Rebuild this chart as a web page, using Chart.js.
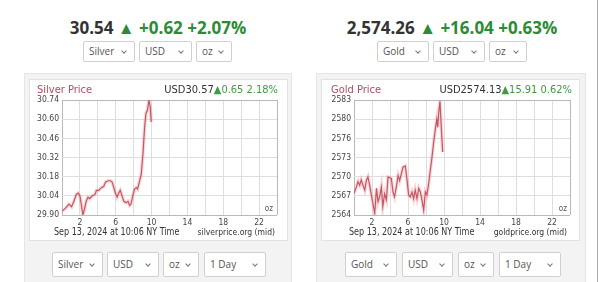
<!DOCTYPE html>
<html>
<head>
<meta charset="utf-8">
<script src="https://cdn.jsdelivr.net/npm/chart.js@4"></script>
<style>
  html, body { margin: 0; padding: 0; background: #fff; }
  body { width: 600px; height: 282px; position: relative; overflow: hidden; font-family: "Open Sans", sans-serif; }
  .abs { position: absolute; white-space: nowrap; }
  .head { font-weight: 700; font-size: 17px; line-height: 22px; text-align: center; color: #333; }
  .head .up { color: #2c8c35; }
  .sel { position: absolute; box-sizing: border-box; background: #fff; border: 1px solid #d0d0d0; border-radius: 2px;
         font-size: 10px; color: #555; padding-left: 5px; }
  .sel::after { content: ""; position: absolute; right: 8px; top: calc(50% - 3px); width: 3px; height: 3px;
         border-right: 1px solid #777; border-bottom: 1px solid #777; transform: rotate(45deg); }
  .panel { position: absolute; background: #f3f3f3; border: 1px solid #e6e6e6; box-sizing: border-box; }
  .box { position: absolute; background: #fff; border: 1px solid #e2e2e2; box-sizing: border-box; }
  .ct { font-family: "DejaVu Sans Condensed", "DejaVu Sans", sans-serif; }
  .foot { font-size: 10.5px; color: #333; transform: scaleX(0.85); transform-origin: left center; }
  canvas { position: absolute; }
</style>
</head>
<body>

<div class="abs head" style="left:24px;width:268px;top:17px;">30.54 <span class="up">&#9650; +0.62 +2.07%</span></div>
<div class="abs head" style="left:318px;width:268px;top:17px;">2,574.26 <span class="up">&#9650; +16.04 +0.63%</span></div>

<div class="panel" style="left:24px;top:73px;width:268px;height:215px;"></div>
<div class="panel" style="left:316px;top:73px;width:270px;height:215px;"></div>
<div class="box" style="left:29px;top:79px;width:259px;height:162px;"></div>
<div class="box" style="left:321px;top:79px;width:259px;height:162px;"></div>
<div class="abs" style="left:597px;top:0;width:1px;height:282px;background:#a8a8a8;"></div>

<canvas id="silverChart" width="259" height="162" style="left:29px;top:79px;"></canvas>
<canvas id="goldChart" width="259" height="162" style="left:321px;top:79px;"></canvas>

<div class="abs ct" style="left:37px;top:83px;font-size:11px;color:#b54a5c;">Silver Price</div>
<div class="abs ct" style="right:322px;top:83px;font-size:11px;color:#333;">USD30.57<span style="color:#3f9a45;">&#9650;0.65 2.18%</span></div>
<div class="abs ct" style="right:327px;top:204px;font-size:8px;color:#555;">oz</div>
<div class="abs ct foot" style="left:54px;top:225px;">Sep 13, 2024 at 10:06 NY Time</div>
<div class="abs ct" style="right:325px;top:227px;font-size:8.5px;color:#333;">silverprice.org (mid)</div>

<div class="abs ct" style="left:331px;top:83px;font-size:11px;color:#b54a5c;">Gold Price</div>
<div class="abs ct" style="right:28px;top:83px;font-size:11px;color:#333;">USD2574.13<span style="color:#3f9a45;">&#9650;15.91 0.62%</span></div>
<div class="abs ct" style="right:33px;top:204px;font-size:8px;color:#555;">oz</div>
<div class="abs ct foot" style="left:349px;top:225px;">Sep 13, 2024 at 10:06 NY Time</div>
<div class="abs ct" style="right:33px;top:227px;font-size:8.5px;color:#333;">goldprice.org (mid)</div>

<div id="selects"></div>

<script>
// hours since midnight NY time, and prices
const silverHours = [0.04, 0.4, 0.78, 1.07, 1.33, 1.6, 1.8, 2.0, 2.15, 2.33, 2.5, 2.7, 2.9, 3.1, 3.37, 3.67, 3.85, 4.1, 4.4, 4.67,
  4.85, 5.15, 5.4, 5.6, 5.78, 5.96, 6.15, 6.33, 6.5, 6.7, 6.9, 7.15, 7.37, 7.55, 7.7, 7.9, 8.1, 8.3, 8.44, 8.63,
  8.85, 9.04, 9.22, 9.37, 9.55, 9.7, 9.85, 9.96];
const silverPrices = [29.93, 29.95, 29.98, 29.96, 30.00, 30.05, 30.06, 30.04, 29.98, 29.90, 29.94, 30.00, 30.03, 30.02, 30.04, 30.05, 30.08, 30.08, 30.10, 30.11,
  30.14, 30.15, 30.15, 30.14, 30.10, 30.06, 30.03, 30.06, 30.08, 30.04, 30.00, 29.99, 30.00, 29.97, 29.98, 30.04, 30.09, 30.10, 30.09, 30.14,
  30.20, 30.35, 30.54, 30.64, 30.67, 30.74, 30.69, 30.58];

const goldHours = [0, 0.26, 0.44, 0.63, 0.8, 1.0, 1.2, 1.37, 1.55, 1.74, 1.93, 2.1, 2.3, 2.5, 2.67, 2.85, 3.04, 3.2, 3.4, 3.6,
  3.78, 3.96, 4.15, 4.33, 4.5, 4.7, 4.9, 5.07, 5.26, 5.44, 5.7, 5.9, 6.07, 6.26, 6.44, 6.63, 6.8, 7.0, 7.2, 7.37,
  7.55, 7.74, 7.93, 8.1, 8.3, 8.48, 8.67, 8.85, 9.04, 9.2, 9.3, 9.4, 9.55, 9.7, 9.85];
const goldPrices = [2567.6, 2568.6, 2569.5, 2568.9, 2569.8, 2568.9, 2568.1, 2569.7, 2570.3, 2568.9, 2567.3, 2565.9, 2564.3, 2568.4, 2566.2, 2567.0, 2568.6, 2565.4, 2567.5, 2566.5,
  2570.3, 2570.2, 2570.0, 2567.8, 2567.0, 2568.6, 2570.5, 2569.7, 2570.8, 2571.9, 2572.1, 2569.7, 2567.3, 2567.0, 2567.8, 2566.7, 2568.1, 2566.7, 2568.4, 2567.8,
  2566.5, 2564.8, 2567.8, 2567.3, 2569.2, 2571.4, 2573.6, 2576.0, 2578.2, 2579.8, 2578.5, 2580.7, 2582.8, 2578.5, 2574.4];

const silverTickLabels = ["29.90", "30.04", "30.18", "30.32", "30.46", "30.60", "30.74"];
const goldTickLabels = ["2564", "2567", "2570", "2573", "2576", "2580", "2583"];
const hourTickLabels = ["2", "6", "10", "14", "18", "22"];

const topSelects = [
  ["Silver", 83, 52], ["USD", 139, 53], ["oz", 196, 36],
  ["Gold", 377, 52], ["USD", 433, 52], ["oz", 489, 38]
];
const bottomSelects = [
  ["Silver", 52, 51], ["USD", 107, 52], ["oz", 163, 36], ["1 Day", 204, 62],
  ["Gold", 345, 52], ["USD", 402, 51], ["oz", 458, 36], ["1 Day", 499, 62]
];

function addSelects(list, top, h) {
    const wrap = document.getElementById("selects");
    list.forEach(([txt, x, w]) => {
        const d = document.createElement("div");
        d.className = "sel";
        d.textContent = txt;
        d.style.cssText = `left:${x}px;top:${top}px;width:${w}px;height:${h}px;line-height:${h - 2}px;`;
        wrap.appendChild(d);
    });
}
addSelects(topSelects, 41, 21);
addSelects(bottomSelects, 252, 25);

function criarGrafico(id, horas, precos, rotulos, minY, maxY, padRight) {
    const pontos = horas.map((h, i) => ({ x: h, y: precos[i] }));
    const n = rotulos.length;
    const tickFont = { family: "DejaVu Sans Condensed", size: 8.5 };
    const gridColor = ctx => {
        const last = ctx.scale.ticks.length - 1;
        return (ctx.index === 0 || ctx.index === last) ? "#b9b9b9" : "#dedede";
    };

    return new Chart(document.getElementById(id), {
        type: "line",
        data: {
            datasets: [
                { data: pontos, borderColor: "rgba(235,140,150,0.35)", borderWidth: 3.5, pointRadius: 0, tension: 0 },
                { data: pontos, borderColor: "#b03c47", borderWidth: 1.2, pointRadius: 0, tension: 0 }
            ]
        },
        options: {
            responsive: false,
            animation: false,
            layout: { padding: { top: 21, right: padRight, left: 0, bottom: 0 } },
            plugins: { legend: { display: false }, tooltip: { enabled: false } },
            scales: {
                x: {
                    type: "linear",
                    min: 0,
                    max: 24,
                    afterBuildTicks: s => { s.ticks = Array.from({ length: 13 }, (_, i) => ({ value: i * 2 })); },
                    afterFit: s => { s.height = 26; },
                    grid: { color: gridColor, drawTicks: false },
                    border: { display: false },
                    ticks: {
                        padding: 3,
                        color: "#444",
                        font: tickFont,
                        maxRotation: 0,
                        autoSkip: false,
                        callback: v => hourTickLabels.includes(String(v)) ? String(v) : ""
                    }
                },
                y: {
                    min: minY,
                    max: maxY,
                    afterBuildTicks: s => {
                        s.ticks = rotulos.map((_, i) => ({ value: minY + i * (maxY - minY) / (n - 1) }));
                    },
                    afterFit: s => { s.width = 33; },
                    grid: { color: gridColor, drawTicks: false },
                    border: { display: false },
                    ticks: {
                        padding: 3,
                        color: "#444",
                        font: tickFont,
                        autoSkip: false,
                        callback: (v, i) => rotulos[i]
                    }
                }
            }
        }
    });
}

criarGrafico("silverChart", silverHours, silverPrices, silverTickLabels, 29.90, 30.74, 11);
criarGrafico("goldChart", goldHours, goldPrices, goldTickLabels, 2564, 2583, 10);
</script>
</body>
</html>
